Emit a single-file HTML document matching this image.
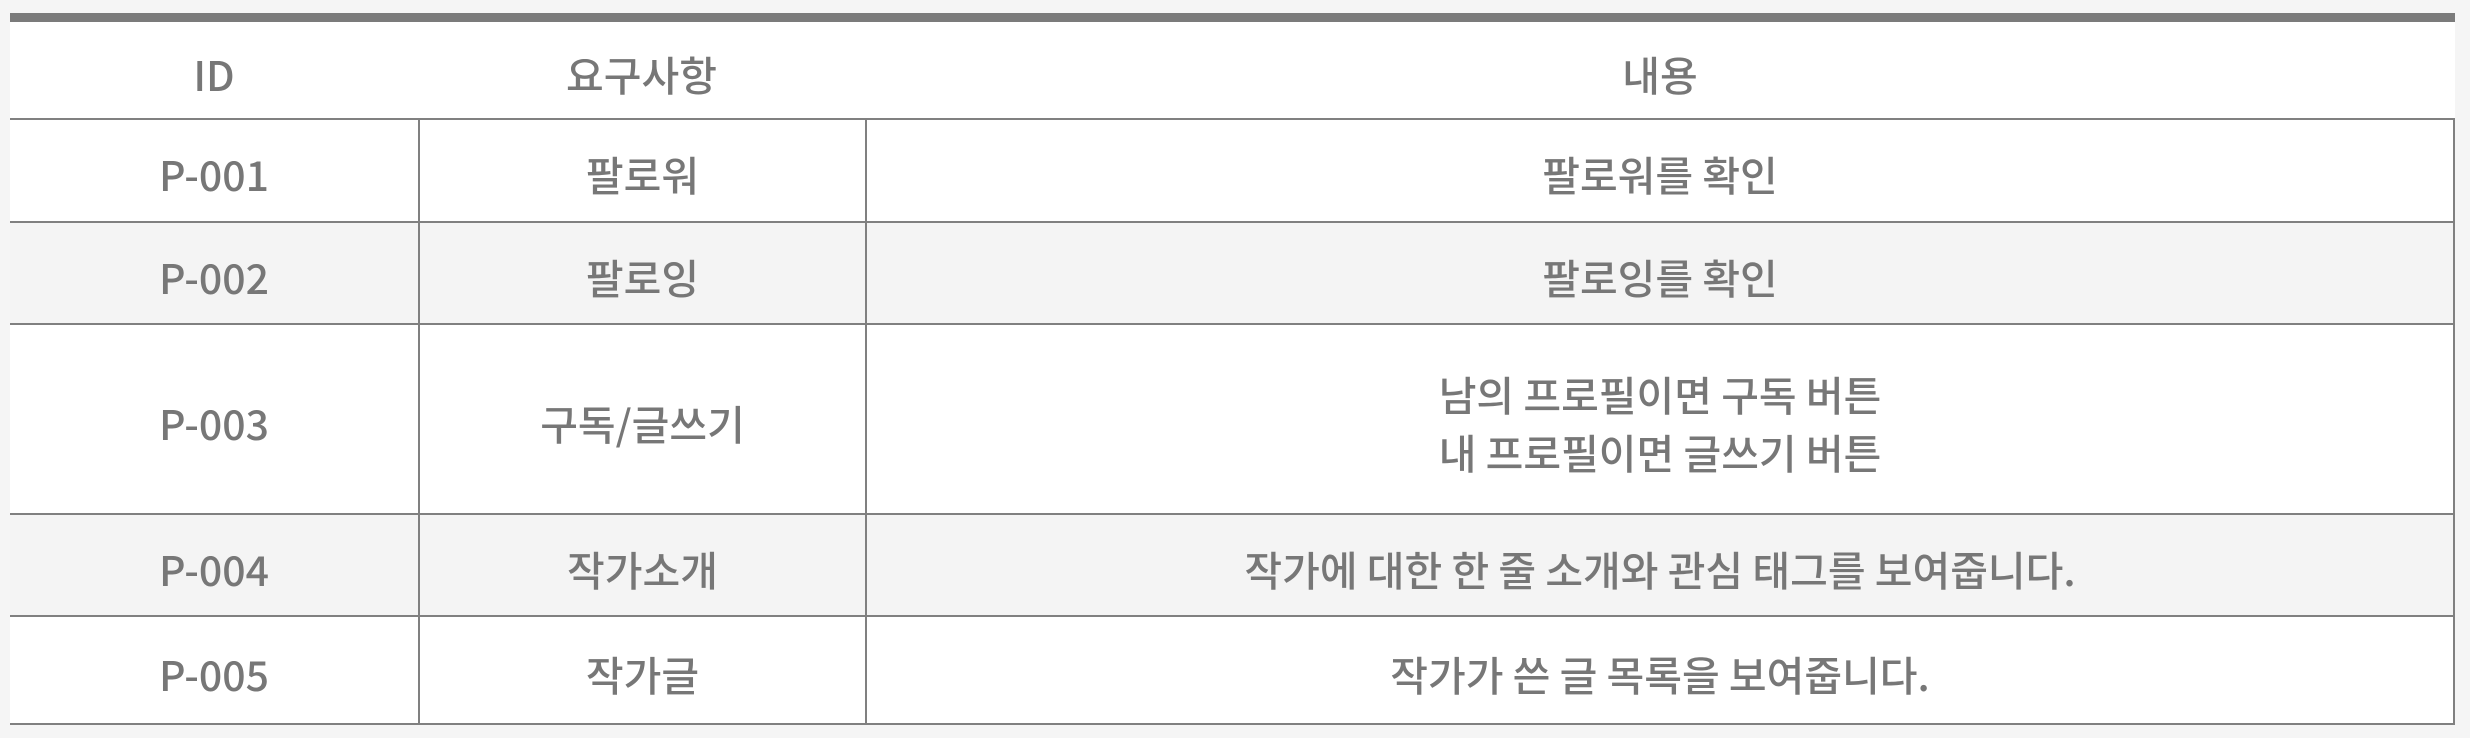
<!DOCTYPE html>
<html><head><meta charset="utf-8"><style>
html,body{margin:0;padding:0;}
body{width:2470px;height:738px;background:#f5f5f5;position:relative;overflow:hidden;font-family:"Noto Sans CJK KR","Liberation Sans",sans-serif;color:#777;}
.tbl{position:absolute;left:10px;top:13px;width:2445px;height:711px;background:#fff;}
.top{position:absolute;left:0;top:0;width:100%;height:9px;background:#7b7b7b;}
.row{position:absolute;left:0;width:2445px;border-bottom:2px solid #808080;box-sizing:border-box;}
.cell{position:absolute;top:0;height:100%;display:flex;align-items:center;justify-content:center;text-align:center;font-size:41px;line-height:58px;font-weight:500;box-sizing:border-box;padding-top:5px;letter-spacing:0;}
.c1{left:0;width:408px;}
.c2{left:408px;width:447px;border-left:2px solid #808080;}
.c3{left:855px;width:1590px;border-left:2px solid #808080;border-right:2px solid #808080;}
.hdr .c2,.hdr .c3{border-left:none;}
.hdr .c3{border-right:none;}
.alt{background:#f4f4f4;}
</style></head><body>
<div class="tbl">
<div class="top"></div>
<div class="row hdr" style="top:9px;height:98px">
<div class="cell c1">ID</div>
<div class="cell c2">요구사항</div>
<div class="cell c3">내용</div>
</div>
<div class="row" style="top:107px;height:103px">
<div class="cell c1">P-001</div>
<div class="cell c2">팔로워</div>
<div class="cell c3">팔로워를 확인</div>
</div>
<div class="row alt" style="top:210px;height:102px">
<div class="cell c1">P-002</div>
<div class="cell c2">팔로잉</div>
<div class="cell c3">팔로잉를 확인</div>
</div>
<div class="row" style="top:312px;height:190px">
<div class="cell c1">P-003</div>
<div class="cell c2">구독/글쓰기</div>
<div class="cell c3">남의 프로필이면 구독 버튼<br>내 프로필이면 글쓰기 버튼</div>
</div>
<div class="row alt" style="top:502px;height:102px">
<div class="cell c1">P-004</div>
<div class="cell c2">작가소개</div>
<div class="cell c3">작가에 대한 한 줄 소개와 관심 태그를 보여줍니다.</div>
</div>
<div class="row" style="top:604px;height:108px">
<div class="cell c1">P-005</div>
<div class="cell c2">작가글</div>
<div class="cell c3">작가가 쓴 글 목록을 보여줍니다.</div>
</div>
</div>
</body></html>
